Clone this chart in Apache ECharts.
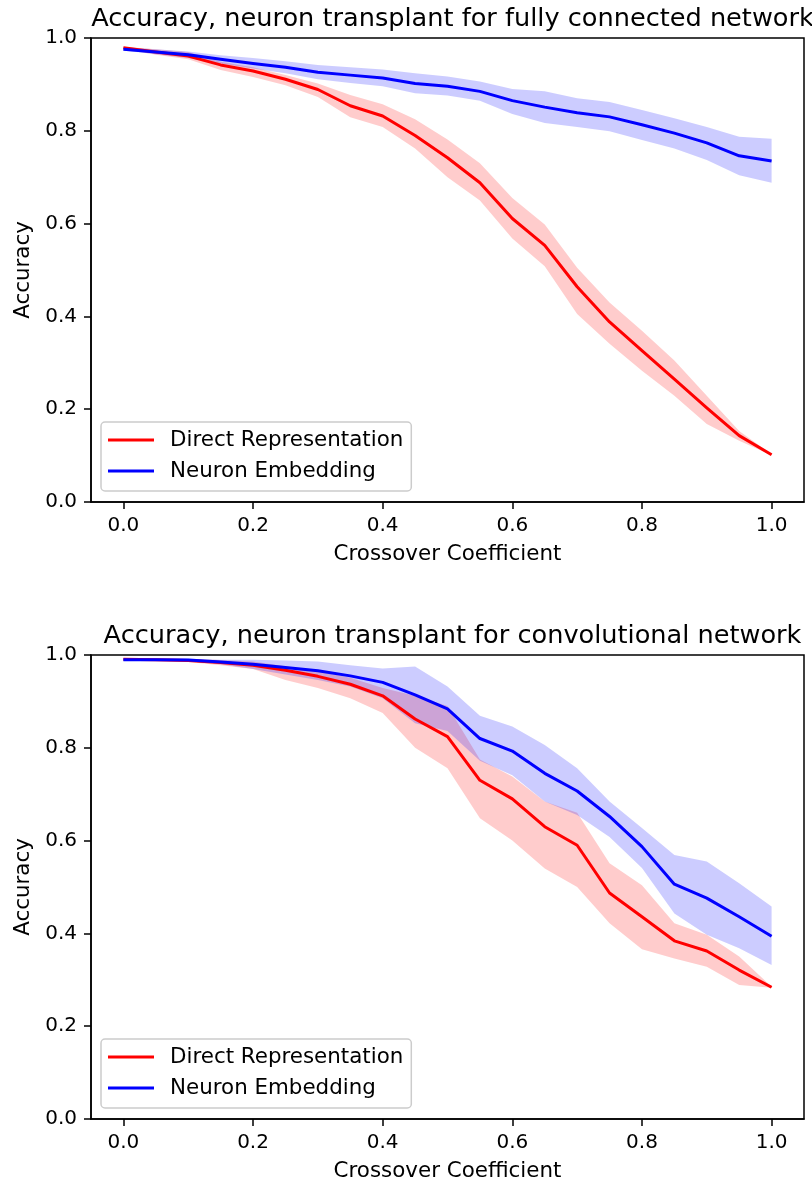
<!DOCTYPE html>
<html>
<head>
<meta charset="utf-8">
<script src="https://cdn.jsdelivr.net/npm/echarts@6/dist/echarts.min.js"></script>
<style>
html,body{margin:0;padding:0;background:#fff;}
#chart{width:812px;height:1186px;}
</style>
</head>
<body>
<div id="chart"></div>
<script>
// ---------- data ----------
const X = [0, 0.05, 0.1, 0.15, 0.2, 0.25, 0.3, 0.35, 0.4, 0.45, 0.5, 0.55, 0.6, 0.65, 0.7, 0.75, 0.8, 0.85, 0.9, 0.95, 1.0];
const X_TICKS = [0, 0.2, 0.4, 0.6, 0.8, 1.0];
const SERIES_NAMES = ['Direct Representation', 'Neuron Embedding'];
const TITLES = ['Accuracy, neuron transplant for fully connected network', 'Accuracy, neuron transplant for convolutional network'];

// fully connected network
const fcDirectMean  = [0.979, 0.970, 0.961, 0.942, 0.929, 0.911, 0.889, 0.854, 0.832, 0.790, 0.742, 0.688, 0.611, 0.553, 0.464, 0.388, 0.326, 0.265, 0.203, 0.143, 0.102];
const fcDirectUpper = [0.981, 0.976, 0.970, 0.949, 0.937, 0.920, 0.902, 0.877, 0.857, 0.825, 0.781, 0.730, 0.655, 0.598, 0.505, 0.430, 0.369, 0.305, 0.229, 0.153, 0.103];
const fcDirectLower = [0.977, 0.964, 0.954, 0.931, 0.916, 0.898, 0.873, 0.829, 0.808, 0.762, 0.700, 0.650, 0.568, 0.508, 0.405, 0.341, 0.283, 0.229, 0.168, 0.132, 0.101];
const fcEmbedMean   = [0.976, 0.970, 0.964, 0.954, 0.945, 0.937, 0.926, 0.920, 0.914, 0.902, 0.896, 0.885, 0.865, 0.851, 0.839, 0.830, 0.813, 0.795, 0.774, 0.746, 0.735];
const fcEmbedUpper  = [0.980, 0.976, 0.971, 0.963, 0.957, 0.950, 0.942, 0.937, 0.932, 0.924, 0.917, 0.906, 0.890, 0.885, 0.870, 0.862, 0.845, 0.827, 0.808, 0.787, 0.783];
const fcEmbedLower  = [0.973, 0.965, 0.957, 0.945, 0.934, 0.924, 0.911, 0.903, 0.896, 0.881, 0.876, 0.865, 0.836, 0.817, 0.808, 0.799, 0.780, 0.762, 0.737, 0.704, 0.688];

// convolutional network
const cnDirectMean  = [0.991, 0.990, 0.988, 0.984, 0.978, 0.967, 0.954, 0.937, 0.912, 0.862, 0.824, 0.730, 0.690, 0.630, 0.590, 0.487, 0.436, 0.384, 0.362, 0.321, 0.284];
const cnDirectUpper = [0.993, 0.992, 0.991, 0.989, 0.986, 0.976, 0.965, 0.951, 0.929, 0.912, 0.890, 0.775, 0.738, 0.684, 0.660, 0.551, 0.504, 0.422, 0.397, 0.350, 0.285];
const cnDirectLower = [0.989, 0.988, 0.985, 0.978, 0.970, 0.946, 0.929, 0.907, 0.875, 0.800, 0.756, 0.648, 0.600, 0.540, 0.500, 0.422, 0.366, 0.346, 0.328, 0.289, 0.283];
const cnEmbedMean   = [0.990, 0.990, 0.989, 0.985, 0.980, 0.973, 0.966, 0.955, 0.941, 0.914, 0.884, 0.820, 0.793, 0.745, 0.707, 0.652, 0.587, 0.506, 0.476, 0.436, 0.394];
const cnEmbedUpper  = [0.992, 0.992, 0.992, 0.990, 0.990, 0.988, 0.986, 0.978, 0.971, 0.975, 0.932, 0.869, 0.846, 0.806, 0.756, 0.684, 0.627, 0.569, 0.555, 0.508, 0.458];
const cnEmbedLower  = [0.988, 0.988, 0.986, 0.980, 0.970, 0.958, 0.946, 0.932, 0.907, 0.853, 0.836, 0.772, 0.741, 0.684, 0.655, 0.608, 0.541, 0.443, 0.397, 0.368, 0.332];

// ---------- chart ----------
const FONT = 'DejaVu Sans';
const RED = '#ff0000', BLUE = '#0000ff';
const RED_FILL = 'rgba(255,0,0,0.2)', BLUE_FILL = 'rgba(0,0,255,0.2)';

const chart = echarts.init(document.getElementById('chart'), null, {renderer: 'canvas', width: 812, height: 1186});

const PLOT_TOPS = [38, 655];
const PLOT_H = 464;

function pairs(ys) { return X.map((x, i) => [x, ys[i]]); }

function band(name, gridIdx, upper, lower, fill) {
  return {
    type: 'custom', name: name + ' band', xAxisIndex: gridIdx, yAxisIndex: gridIdx,
    silent: true, z: 1, clip: true,
    data: pairs(lower),
    encode: {x: 0, y: 1},
    renderItem: function (params, api) {
      if (params.dataIndex !== 0) return null;
      const pts = [];
      for (let i = 0; i < X.length; i++) pts.push(api.coord([X[i], upper[i]]));
      for (let i = X.length - 1; i >= 0; i--) pts.push(api.coord([X[i], lower[i]]));
      return {type: 'polygon', shape: {points: pts}, style: {fill: fill, stroke: null}};
    }
  };
}

function line(name, gridIdx, ys, color) {
  return {
    type: 'line', name: name, xAxisIndex: gridIdx, yAxisIndex: gridIdx,
    data: pairs(ys), symbol: 'none', z: 2, animation: false,
    lineStyle: {color: color, width: 3, join: 'round'}, itemStyle: {color: color}
  };
}

const axisCommon = {
  axisLine: {show: true, onZero: false, lineStyle: {color: '#000', width: 1.5}},
  axisTick: {show: true, inside: false, length: 7, lineStyle: {color: '#000', width: 1.5}},
  splitLine: {show: false}
};

const grids = [], xAxes = [], yAxes = [], titles = [], legends = [];
for (let g = 0; g < 2; g++) {
  grids.push({left: 91, top: PLOT_TOPS[g], width: 713, height: PLOT_H, show: true,
              borderColor: '#000', borderWidth: 1.5, backgroundColor: 'transparent', containLabel: false});
  xAxes.push(Object.assign({}, axisCommon, {
    type: 'value', gridIndex: g, min: -0.05, max: 1.05,
    axisTick: Object.assign({}, axisCommon.axisTick, {customValues: X_TICKS}),
    axisLabel: {customValues: X_TICKS, formatter: v => v.toFixed(1), color: '#000', fontSize: 20, fontFamily: FONT, margin: 14},
    name: 'Crossover Coefficient', nameLocation: 'middle', nameGap: 42,
    nameTextStyle: {color: '#000', fontSize: 21.4, fontFamily: FONT}
  }));
  yAxes.push(Object.assign({}, axisCommon, {
    type: 'value', gridIndex: g, min: 0, max: 1, interval: 0.2,
    axisLabel: {formatter: v => v.toFixed(1), color: '#000', fontSize: 20, fontFamily: FONT, margin: 14},
    name: 'Accuracy', nameLocation: 'middle', nameGap: 55,
    nameTextStyle: {color: '#000', fontSize: 21.4, fontFamily: FONT}
  }));
  titles.push({text: TITLES[g], left: 447.5, textAlign: 'center', top: PLOT_TOPS[g] - 37,
               textStyle: {color: '#000', fontSize: 25.6, fontWeight: 'normal', fontFamily: FONT}});
  legends.push({
    data: SERIES_NAMES.map(n => ({name: n, icon: 'rect'})), orient: 'vertical', left: 101, top: PLOT_TOPS[g] + PLOT_H - 80,
    itemWidth: 46, itemHeight: 3, itemGap: 7,
    padding: [6, 8, 8, 7], borderColor: '#cccccc', borderWidth: 1.5, borderRadius: 4,
    backgroundColor: 'rgba(255,255,255,0.8)', selectedMode: false,
    textStyle: {color: '#000', fontSize: 21.4, fontFamily: FONT, lineHeight: 24, padding: [0, 0, 0, 11]}
  });
}

const series = [
  band(SERIES_NAMES[0], 0, fcDirectUpper, fcDirectLower, RED_FILL),
  band(SERIES_NAMES[1], 0, fcEmbedUpper, fcEmbedLower, BLUE_FILL),
  line(SERIES_NAMES[0], 0, fcDirectMean, RED),
  line(SERIES_NAMES[1], 0, fcEmbedMean, BLUE),
  band(SERIES_NAMES[0], 1, cnDirectUpper, cnDirectLower, RED_FILL),
  band(SERIES_NAMES[1], 1, cnEmbedUpper, cnEmbedLower, BLUE_FILL),
  line(SERIES_NAMES[0], 1, cnDirectMean, RED),
  line(SERIES_NAMES[1], 1, cnEmbedMean, BLUE)
];

chart.setOption({
  animation: false,
  backgroundColor: '#ffffff',
  textStyle: {fontFamily: FONT},
  title: titles,
  legend: legends,
  grid: grids,
  xAxis: xAxes,
  yAxis: yAxes,
  series: series
});
</script>
</body>
</html>
